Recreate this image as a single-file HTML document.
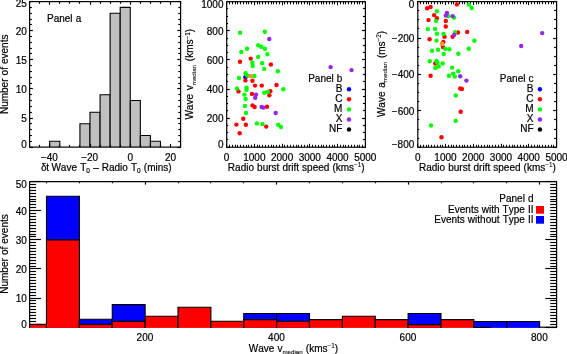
<!DOCTYPE html>
<html><head><meta charset="utf-8"><title>Figure</title>
<style>
html,body{margin:0;padding:0;background:#fff;}
body{width:567px;height:354px;overflow:hidden;font-family:"Liberation Sans",sans-serif;}
svg{display:block;will-change:transform;}
svg text{font-family:"Liberation Sans",sans-serif;fill:#000;word-spacing:0.3px;font-kerning:none;stroke:#000;stroke-width:0.2px;}
</style></head>
<body>
<svg width="567" height="354" viewBox="0 0 567 354">
<rect x="0" y="0" width="567" height="354" fill="#fff"/>
<path d="M49.73 147.10V141.28H59.80V147.10" fill="#c0c0c0" stroke="#000" stroke-width="1.1"/>
<path d="M79.93 147.10V123.82H90.00V147.10" fill="#c0c0c0" stroke="#000" stroke-width="1.1"/>
<path d="M90.00 147.10V112.18H100.07V147.10" fill="#c0c0c0" stroke="#000" stroke-width="1.1"/>
<path d="M100.07 147.10V94.72H110.13V147.10" fill="#c0c0c0" stroke="#000" stroke-width="1.1"/>
<path d="M110.13 147.10V13.24H120.20V147.10" fill="#c0c0c0" stroke="#000" stroke-width="1.1"/>
<path d="M120.20 147.10V7.42H130.27V147.10" fill="#c0c0c0" stroke="#000" stroke-width="1.1"/>
<path d="M130.27 147.10V100.54H140.33V147.10" fill="#c0c0c0" stroke="#000" stroke-width="1.1"/>
<path d="M140.33 147.10V135.46H150.40V147.10" fill="#c0c0c0" stroke="#000" stroke-width="1.1"/>
<path d="M150.40 147.10V141.28H160.47V147.10" fill="#c0c0c0" stroke="#000" stroke-width="1.1"/>
<line x1="29.50" y1="147.10" x2="29.50" y2="144.90" stroke="#000" stroke-width="1.15"/>
<line x1="29.50" y1="1.60" x2="29.50" y2="3.80" stroke="#000" stroke-width="1.15"/>
<line x1="39.50" y1="147.10" x2="39.50" y2="144.90" stroke="#000" stroke-width="1.15"/>
<line x1="39.50" y1="1.60" x2="39.50" y2="3.80" stroke="#000" stroke-width="1.15"/>
<line x1="49.50" y1="147.10" x2="49.50" y2="143.90" stroke="#000" stroke-width="1.15"/>
<line x1="49.50" y1="1.60" x2="49.50" y2="4.80" stroke="#000" stroke-width="1.15"/>
<line x1="59.50" y1="147.10" x2="59.50" y2="144.90" stroke="#000" stroke-width="1.15"/>
<line x1="59.50" y1="1.60" x2="59.50" y2="3.80" stroke="#000" stroke-width="1.15"/>
<line x1="69.50" y1="147.10" x2="69.50" y2="144.90" stroke="#000" stroke-width="1.15"/>
<line x1="69.50" y1="1.60" x2="69.50" y2="3.80" stroke="#000" stroke-width="1.15"/>
<line x1="79.50" y1="147.10" x2="79.50" y2="144.90" stroke="#000" stroke-width="1.15"/>
<line x1="79.50" y1="1.60" x2="79.50" y2="3.80" stroke="#000" stroke-width="1.15"/>
<line x1="90.50" y1="147.10" x2="90.50" y2="143.90" stroke="#000" stroke-width="1.15"/>
<line x1="90.50" y1="1.60" x2="90.50" y2="4.80" stroke="#000" stroke-width="1.15"/>
<line x1="100.50" y1="147.10" x2="100.50" y2="144.90" stroke="#000" stroke-width="1.15"/>
<line x1="100.50" y1="1.60" x2="100.50" y2="3.80" stroke="#000" stroke-width="1.15"/>
<line x1="110.50" y1="147.10" x2="110.50" y2="144.90" stroke="#000" stroke-width="1.15"/>
<line x1="110.50" y1="1.60" x2="110.50" y2="3.80" stroke="#000" stroke-width="1.15"/>
<line x1="120.50" y1="147.10" x2="120.50" y2="144.90" stroke="#000" stroke-width="1.15"/>
<line x1="120.50" y1="1.60" x2="120.50" y2="3.80" stroke="#000" stroke-width="1.15"/>
<line x1="130.50" y1="147.10" x2="130.50" y2="143.90" stroke="#000" stroke-width="1.15"/>
<line x1="130.50" y1="1.60" x2="130.50" y2="4.80" stroke="#000" stroke-width="1.15"/>
<line x1="140.50" y1="147.10" x2="140.50" y2="144.90" stroke="#000" stroke-width="1.15"/>
<line x1="140.50" y1="1.60" x2="140.50" y2="3.80" stroke="#000" stroke-width="1.15"/>
<line x1="150.50" y1="147.10" x2="150.50" y2="144.90" stroke="#000" stroke-width="1.15"/>
<line x1="150.50" y1="1.60" x2="150.50" y2="3.80" stroke="#000" stroke-width="1.15"/>
<line x1="160.50" y1="147.10" x2="160.50" y2="144.90" stroke="#000" stroke-width="1.15"/>
<line x1="160.50" y1="1.60" x2="160.50" y2="3.80" stroke="#000" stroke-width="1.15"/>
<line x1="170.50" y1="147.10" x2="170.50" y2="143.90" stroke="#000" stroke-width="1.15"/>
<line x1="170.50" y1="1.60" x2="170.50" y2="4.80" stroke="#000" stroke-width="1.15"/>
<line x1="180.50" y1="147.10" x2="180.50" y2="144.90" stroke="#000" stroke-width="1.15"/>
<line x1="180.50" y1="1.60" x2="180.50" y2="3.80" stroke="#000" stroke-width="1.15"/>
<line x1="29.60" y1="147.50" x2="32.90" y2="147.50" stroke="#000" stroke-width="1.15"/>
<line x1="180.60" y1="147.50" x2="177.30" y2="147.50" stroke="#000" stroke-width="1.15"/>
<line x1="29.60" y1="141.50" x2="31.90" y2="141.50" stroke="#000" stroke-width="1.15"/>
<line x1="180.60" y1="141.50" x2="178.30" y2="141.50" stroke="#000" stroke-width="1.15"/>
<line x1="29.60" y1="135.50" x2="31.90" y2="135.50" stroke="#000" stroke-width="1.15"/>
<line x1="180.60" y1="135.50" x2="178.30" y2="135.50" stroke="#000" stroke-width="1.15"/>
<line x1="29.60" y1="129.50" x2="31.90" y2="129.50" stroke="#000" stroke-width="1.15"/>
<line x1="180.60" y1="129.50" x2="178.30" y2="129.50" stroke="#000" stroke-width="1.15"/>
<line x1="29.60" y1="123.50" x2="31.90" y2="123.50" stroke="#000" stroke-width="1.15"/>
<line x1="180.60" y1="123.50" x2="178.30" y2="123.50" stroke="#000" stroke-width="1.15"/>
<line x1="29.60" y1="118.50" x2="32.90" y2="118.50" stroke="#000" stroke-width="1.15"/>
<line x1="180.60" y1="118.50" x2="177.30" y2="118.50" stroke="#000" stroke-width="1.15"/>
<line x1="29.60" y1="112.50" x2="31.90" y2="112.50" stroke="#000" stroke-width="1.15"/>
<line x1="180.60" y1="112.50" x2="178.30" y2="112.50" stroke="#000" stroke-width="1.15"/>
<line x1="29.60" y1="106.50" x2="31.90" y2="106.50" stroke="#000" stroke-width="1.15"/>
<line x1="180.60" y1="106.50" x2="178.30" y2="106.50" stroke="#000" stroke-width="1.15"/>
<line x1="29.60" y1="100.50" x2="31.90" y2="100.50" stroke="#000" stroke-width="1.15"/>
<line x1="180.60" y1="100.50" x2="178.30" y2="100.50" stroke="#000" stroke-width="1.15"/>
<line x1="29.60" y1="94.50" x2="31.90" y2="94.50" stroke="#000" stroke-width="1.15"/>
<line x1="180.60" y1="94.50" x2="178.30" y2="94.50" stroke="#000" stroke-width="1.15"/>
<line x1="29.60" y1="88.50" x2="32.90" y2="88.50" stroke="#000" stroke-width="1.15"/>
<line x1="180.60" y1="88.50" x2="177.30" y2="88.50" stroke="#000" stroke-width="1.15"/>
<line x1="29.60" y1="83.50" x2="31.90" y2="83.50" stroke="#000" stroke-width="1.15"/>
<line x1="180.60" y1="83.50" x2="178.30" y2="83.50" stroke="#000" stroke-width="1.15"/>
<line x1="29.60" y1="77.50" x2="31.90" y2="77.50" stroke="#000" stroke-width="1.15"/>
<line x1="180.60" y1="77.50" x2="178.30" y2="77.50" stroke="#000" stroke-width="1.15"/>
<line x1="29.60" y1="71.50" x2="31.90" y2="71.50" stroke="#000" stroke-width="1.15"/>
<line x1="180.60" y1="71.50" x2="178.30" y2="71.50" stroke="#000" stroke-width="1.15"/>
<line x1="29.60" y1="65.50" x2="31.90" y2="65.50" stroke="#000" stroke-width="1.15"/>
<line x1="180.60" y1="65.50" x2="178.30" y2="65.50" stroke="#000" stroke-width="1.15"/>
<line x1="29.60" y1="59.50" x2="32.90" y2="59.50" stroke="#000" stroke-width="1.15"/>
<line x1="180.60" y1="59.50" x2="177.30" y2="59.50" stroke="#000" stroke-width="1.15"/>
<line x1="29.60" y1="53.50" x2="31.90" y2="53.50" stroke="#000" stroke-width="1.15"/>
<line x1="180.60" y1="53.50" x2="178.30" y2="53.50" stroke="#000" stroke-width="1.15"/>
<line x1="29.60" y1="48.50" x2="31.90" y2="48.50" stroke="#000" stroke-width="1.15"/>
<line x1="180.60" y1="48.50" x2="178.30" y2="48.50" stroke="#000" stroke-width="1.15"/>
<line x1="29.60" y1="42.50" x2="31.90" y2="42.50" stroke="#000" stroke-width="1.15"/>
<line x1="180.60" y1="42.50" x2="178.30" y2="42.50" stroke="#000" stroke-width="1.15"/>
<line x1="29.60" y1="36.50" x2="31.90" y2="36.50" stroke="#000" stroke-width="1.15"/>
<line x1="180.60" y1="36.50" x2="178.30" y2="36.50" stroke="#000" stroke-width="1.15"/>
<line x1="29.60" y1="30.50" x2="32.90" y2="30.50" stroke="#000" stroke-width="1.15"/>
<line x1="180.60" y1="30.50" x2="177.30" y2="30.50" stroke="#000" stroke-width="1.15"/>
<line x1="29.60" y1="24.50" x2="31.90" y2="24.50" stroke="#000" stroke-width="1.15"/>
<line x1="180.60" y1="24.50" x2="178.30" y2="24.50" stroke="#000" stroke-width="1.15"/>
<line x1="29.60" y1="19.50" x2="31.90" y2="19.50" stroke="#000" stroke-width="1.15"/>
<line x1="180.60" y1="19.50" x2="178.30" y2="19.50" stroke="#000" stroke-width="1.15"/>
<line x1="29.60" y1="13.50" x2="31.90" y2="13.50" stroke="#000" stroke-width="1.15"/>
<line x1="180.60" y1="13.50" x2="178.30" y2="13.50" stroke="#000" stroke-width="1.15"/>
<line x1="29.60" y1="7.50" x2="31.90" y2="7.50" stroke="#000" stroke-width="1.15"/>
<line x1="180.60" y1="7.50" x2="178.30" y2="7.50" stroke="#000" stroke-width="1.15"/>
<line x1="29.60" y1="1.50" x2="32.90" y2="1.50" stroke="#000" stroke-width="1.15"/>
<line x1="180.60" y1="1.50" x2="177.30" y2="1.50" stroke="#000" stroke-width="1.15"/>
<rect x="29.60" y="1.60" width="151.00" height="145.50" fill="none" stroke="#000" stroke-width="1.2"/>
<text x="26.90" y="121.80" font-size="10" text-anchor="end" stroke-width="0.36">5</text>
<text x="26.90" y="92.70" font-size="10" text-anchor="end" stroke-width="0.36">10</text>
<text x="26.90" y="63.60" font-size="10" text-anchor="end" stroke-width="0.36">15</text>
<text x="26.90" y="34.50" font-size="10" text-anchor="end" stroke-width="0.36">20</text>
<text x="26.90" y="147.50" font-size="10" text-anchor="end" stroke-width="0.36">0</text>
<text x="26.90" y="7.30" font-size="10" text-anchor="end" stroke-width="0.36">25</text>
<text x="49.43" y="160.90" font-size="10" text-anchor="middle" stroke-width="0.36">&#8722;40</text>
<text x="89.70" y="160.90" font-size="10" text-anchor="middle" stroke-width="0.36">&#8722;20</text>
<text x="130.27" y="160.90" font-size="10" text-anchor="middle" stroke-width="0.36">0</text>
<text x="170.53" y="160.90" font-size="10" text-anchor="middle" stroke-width="0.36">20</text>
<text x="47.00" y="21.70" font-size="10" text-anchor="start" >Panel a</text>
<text transform="translate(8.00,74.30) rotate(-90)" font-size="10" text-anchor="middle" stroke-width="0.12" style="word-spacing:0.3px">Number of events</text>
<text x="40.90" y="170.60" font-size="10" text-anchor="start" stroke-width="0.1">&#948;</text>
<text x="46.30" y="170.60" font-size="10" text-anchor="start" stroke-width="0.1">t</text>
<text x="51.40" y="170.60" font-size="10" text-anchor="start" stroke-width="0.1">Wave</text>
<text x="80.20" y="170.60" font-size="10" text-anchor="start" stroke-width="0.1">T</text>
<text x="86.30" y="173.10" font-size="6.5" text-anchor="start" stroke-width="0.1">0</text>
<text x="93.20" y="170.60" font-size="10" text-anchor="start" stroke-width="0.1">&#8211;</text>
<text x="101.70" y="170.60" font-size="10" text-anchor="start" stroke-width="0.1">Radio</text>
<text x="130.90" y="170.60" font-size="10" text-anchor="start" stroke-width="0.1">T</text>
<text x="137.00" y="173.10" font-size="6.5" text-anchor="start" stroke-width="0.1">0</text>
<text x="143.80" y="170.60" font-size="10" text-anchor="start" stroke-width="0.1">(mins)</text>
<line x1="226.50" y1="147.20" x2="226.50" y2="143.80" stroke="#000" stroke-width="1.05"/>
<line x1="226.50" y1="1.70" x2="226.50" y2="5.20" stroke="#000" stroke-width="1.05"/>
<line x1="229.50" y1="147.20" x2="229.50" y2="144.80" stroke="#000" stroke-width="1.05"/>
<line x1="229.50" y1="1.70" x2="229.50" y2="4.30" stroke="#000" stroke-width="1.05"/>
<line x1="232.50" y1="147.20" x2="232.50" y2="144.80" stroke="#000" stroke-width="1.05"/>
<line x1="232.50" y1="1.70" x2="232.50" y2="4.30" stroke="#000" stroke-width="1.05"/>
<line x1="235.50" y1="147.20" x2="235.50" y2="144.80" stroke="#000" stroke-width="1.05"/>
<line x1="235.50" y1="1.70" x2="235.50" y2="4.30" stroke="#000" stroke-width="1.05"/>
<line x1="237.50" y1="147.20" x2="237.50" y2="144.80" stroke="#000" stroke-width="1.05"/>
<line x1="237.50" y1="1.70" x2="237.50" y2="4.30" stroke="#000" stroke-width="1.05"/>
<line x1="240.50" y1="147.20" x2="240.50" y2="144.80" stroke="#000" stroke-width="1.05"/>
<line x1="240.50" y1="1.70" x2="240.50" y2="4.30" stroke="#000" stroke-width="1.05"/>
<line x1="243.50" y1="147.20" x2="243.50" y2="144.80" stroke="#000" stroke-width="1.05"/>
<line x1="243.50" y1="1.70" x2="243.50" y2="4.30" stroke="#000" stroke-width="1.05"/>
<line x1="246.50" y1="147.20" x2="246.50" y2="144.80" stroke="#000" stroke-width="1.05"/>
<line x1="246.50" y1="1.70" x2="246.50" y2="4.30" stroke="#000" stroke-width="1.05"/>
<line x1="248.50" y1="147.20" x2="248.50" y2="144.80" stroke="#000" stroke-width="1.05"/>
<line x1="248.50" y1="1.70" x2="248.50" y2="4.30" stroke="#000" stroke-width="1.05"/>
<line x1="251.50" y1="147.20" x2="251.50" y2="144.80" stroke="#000" stroke-width="1.05"/>
<line x1="251.50" y1="1.70" x2="251.50" y2="4.30" stroke="#000" stroke-width="1.05"/>
<line x1="254.50" y1="147.20" x2="254.50" y2="143.80" stroke="#000" stroke-width="1.05"/>
<line x1="254.50" y1="1.70" x2="254.50" y2="5.20" stroke="#000" stroke-width="1.05"/>
<line x1="257.50" y1="147.20" x2="257.50" y2="144.80" stroke="#000" stroke-width="1.05"/>
<line x1="257.50" y1="1.70" x2="257.50" y2="4.30" stroke="#000" stroke-width="1.05"/>
<line x1="259.50" y1="147.20" x2="259.50" y2="144.80" stroke="#000" stroke-width="1.05"/>
<line x1="259.50" y1="1.70" x2="259.50" y2="4.30" stroke="#000" stroke-width="1.05"/>
<line x1="262.50" y1="147.20" x2="262.50" y2="144.80" stroke="#000" stroke-width="1.05"/>
<line x1="262.50" y1="1.70" x2="262.50" y2="4.30" stroke="#000" stroke-width="1.05"/>
<line x1="265.50" y1="147.20" x2="265.50" y2="144.80" stroke="#000" stroke-width="1.05"/>
<line x1="265.50" y1="1.70" x2="265.50" y2="4.30" stroke="#000" stroke-width="1.05"/>
<line x1="268.50" y1="147.20" x2="268.50" y2="144.80" stroke="#000" stroke-width="1.05"/>
<line x1="268.50" y1="1.70" x2="268.50" y2="4.30" stroke="#000" stroke-width="1.05"/>
<line x1="271.50" y1="147.20" x2="271.50" y2="144.80" stroke="#000" stroke-width="1.05"/>
<line x1="271.50" y1="1.70" x2="271.50" y2="4.30" stroke="#000" stroke-width="1.05"/>
<line x1="273.50" y1="147.20" x2="273.50" y2="144.80" stroke="#000" stroke-width="1.05"/>
<line x1="273.50" y1="1.70" x2="273.50" y2="4.30" stroke="#000" stroke-width="1.05"/>
<line x1="276.50" y1="147.20" x2="276.50" y2="144.80" stroke="#000" stroke-width="1.05"/>
<line x1="276.50" y1="1.70" x2="276.50" y2="4.30" stroke="#000" stroke-width="1.05"/>
<line x1="279.50" y1="147.20" x2="279.50" y2="144.80" stroke="#000" stroke-width="1.05"/>
<line x1="279.50" y1="1.70" x2="279.50" y2="4.30" stroke="#000" stroke-width="1.05"/>
<line x1="282.50" y1="147.20" x2="282.50" y2="143.80" stroke="#000" stroke-width="1.05"/>
<line x1="282.50" y1="1.70" x2="282.50" y2="5.20" stroke="#000" stroke-width="1.05"/>
<line x1="284.50" y1="147.20" x2="284.50" y2="144.80" stroke="#000" stroke-width="1.05"/>
<line x1="284.50" y1="1.70" x2="284.50" y2="4.30" stroke="#000" stroke-width="1.05"/>
<line x1="287.50" y1="147.20" x2="287.50" y2="144.80" stroke="#000" stroke-width="1.05"/>
<line x1="287.50" y1="1.70" x2="287.50" y2="4.30" stroke="#000" stroke-width="1.05"/>
<line x1="290.50" y1="147.20" x2="290.50" y2="144.80" stroke="#000" stroke-width="1.05"/>
<line x1="290.50" y1="1.70" x2="290.50" y2="4.30" stroke="#000" stroke-width="1.05"/>
<line x1="293.50" y1="147.20" x2="293.50" y2="144.80" stroke="#000" stroke-width="1.05"/>
<line x1="293.50" y1="1.70" x2="293.50" y2="4.30" stroke="#000" stroke-width="1.05"/>
<line x1="296.50" y1="147.20" x2="296.50" y2="144.80" stroke="#000" stroke-width="1.05"/>
<line x1="296.50" y1="1.70" x2="296.50" y2="4.30" stroke="#000" stroke-width="1.05"/>
<line x1="298.50" y1="147.20" x2="298.50" y2="144.80" stroke="#000" stroke-width="1.05"/>
<line x1="298.50" y1="1.70" x2="298.50" y2="4.30" stroke="#000" stroke-width="1.05"/>
<line x1="301.50" y1="147.20" x2="301.50" y2="144.80" stroke="#000" stroke-width="1.05"/>
<line x1="301.50" y1="1.70" x2="301.50" y2="4.30" stroke="#000" stroke-width="1.05"/>
<line x1="304.50" y1="147.20" x2="304.50" y2="144.80" stroke="#000" stroke-width="1.05"/>
<line x1="304.50" y1="1.70" x2="304.50" y2="4.30" stroke="#000" stroke-width="1.05"/>
<line x1="307.50" y1="147.20" x2="307.50" y2="144.80" stroke="#000" stroke-width="1.05"/>
<line x1="307.50" y1="1.70" x2="307.50" y2="4.30" stroke="#000" stroke-width="1.05"/>
<line x1="309.50" y1="147.20" x2="309.50" y2="143.80" stroke="#000" stroke-width="1.05"/>
<line x1="309.50" y1="1.70" x2="309.50" y2="5.20" stroke="#000" stroke-width="1.05"/>
<line x1="312.50" y1="147.20" x2="312.50" y2="144.80" stroke="#000" stroke-width="1.05"/>
<line x1="312.50" y1="1.70" x2="312.50" y2="4.30" stroke="#000" stroke-width="1.05"/>
<line x1="315.50" y1="147.20" x2="315.50" y2="144.80" stroke="#000" stroke-width="1.05"/>
<line x1="315.50" y1="1.70" x2="315.50" y2="4.30" stroke="#000" stroke-width="1.05"/>
<line x1="318.50" y1="147.20" x2="318.50" y2="144.80" stroke="#000" stroke-width="1.05"/>
<line x1="318.50" y1="1.70" x2="318.50" y2="4.30" stroke="#000" stroke-width="1.05"/>
<line x1="321.50" y1="147.20" x2="321.50" y2="144.80" stroke="#000" stroke-width="1.05"/>
<line x1="321.50" y1="1.70" x2="321.50" y2="4.30" stroke="#000" stroke-width="1.05"/>
<line x1="323.50" y1="147.20" x2="323.50" y2="144.80" stroke="#000" stroke-width="1.05"/>
<line x1="323.50" y1="1.70" x2="323.50" y2="4.30" stroke="#000" stroke-width="1.05"/>
<line x1="326.50" y1="147.20" x2="326.50" y2="144.80" stroke="#000" stroke-width="1.05"/>
<line x1="326.50" y1="1.70" x2="326.50" y2="4.30" stroke="#000" stroke-width="1.05"/>
<line x1="329.50" y1="147.20" x2="329.50" y2="144.80" stroke="#000" stroke-width="1.05"/>
<line x1="329.50" y1="1.70" x2="329.50" y2="4.30" stroke="#000" stroke-width="1.05"/>
<line x1="332.50" y1="147.20" x2="332.50" y2="144.80" stroke="#000" stroke-width="1.05"/>
<line x1="332.50" y1="1.70" x2="332.50" y2="4.30" stroke="#000" stroke-width="1.05"/>
<line x1="334.50" y1="147.20" x2="334.50" y2="144.80" stroke="#000" stroke-width="1.05"/>
<line x1="334.50" y1="1.70" x2="334.50" y2="4.30" stroke="#000" stroke-width="1.05"/>
<line x1="337.50" y1="147.20" x2="337.50" y2="143.80" stroke="#000" stroke-width="1.05"/>
<line x1="337.50" y1="1.70" x2="337.50" y2="5.20" stroke="#000" stroke-width="1.05"/>
<line x1="340.50" y1="147.20" x2="340.50" y2="144.80" stroke="#000" stroke-width="1.05"/>
<line x1="340.50" y1="1.70" x2="340.50" y2="4.30" stroke="#000" stroke-width="1.05"/>
<line x1="343.50" y1="147.20" x2="343.50" y2="144.80" stroke="#000" stroke-width="1.05"/>
<line x1="343.50" y1="1.70" x2="343.50" y2="4.30" stroke="#000" stroke-width="1.05"/>
<line x1="345.50" y1="147.20" x2="345.50" y2="144.80" stroke="#000" stroke-width="1.05"/>
<line x1="345.50" y1="1.70" x2="345.50" y2="4.30" stroke="#000" stroke-width="1.05"/>
<line x1="348.50" y1="147.20" x2="348.50" y2="144.80" stroke="#000" stroke-width="1.05"/>
<line x1="348.50" y1="1.70" x2="348.50" y2="4.30" stroke="#000" stroke-width="1.05"/>
<line x1="351.50" y1="147.20" x2="351.50" y2="144.80" stroke="#000" stroke-width="1.05"/>
<line x1="351.50" y1="1.70" x2="351.50" y2="4.30" stroke="#000" stroke-width="1.05"/>
<line x1="354.50" y1="147.20" x2="354.50" y2="144.80" stroke="#000" stroke-width="1.05"/>
<line x1="354.50" y1="1.70" x2="354.50" y2="4.30" stroke="#000" stroke-width="1.05"/>
<line x1="357.50" y1="147.20" x2="357.50" y2="144.80" stroke="#000" stroke-width="1.05"/>
<line x1="357.50" y1="1.70" x2="357.50" y2="4.30" stroke="#000" stroke-width="1.05"/>
<line x1="359.50" y1="147.20" x2="359.50" y2="144.80" stroke="#000" stroke-width="1.05"/>
<line x1="359.50" y1="1.70" x2="359.50" y2="4.30" stroke="#000" stroke-width="1.05"/>
<line x1="362.50" y1="147.20" x2="362.50" y2="144.80" stroke="#000" stroke-width="1.05"/>
<line x1="362.50" y1="1.70" x2="362.50" y2="4.30" stroke="#000" stroke-width="1.05"/>
<line x1="365.50" y1="147.20" x2="365.50" y2="143.80" stroke="#000" stroke-width="1.05"/>
<line x1="365.50" y1="1.70" x2="365.50" y2="5.20" stroke="#000" stroke-width="1.05"/>
<line x1="226.70" y1="1.50" x2="229.80" y2="1.50" stroke="#000" stroke-width="1.15"/>
<line x1="365.40" y1="1.50" x2="362.00" y2="1.50" stroke="#000" stroke-width="1.15"/>
<line x1="226.70" y1="8.50" x2="228.10" y2="8.50" stroke="#000" stroke-width="1.15"/>
<line x1="365.40" y1="8.50" x2="362.90" y2="8.50" stroke="#000" stroke-width="1.15"/>
<line x1="226.70" y1="16.50" x2="228.10" y2="16.50" stroke="#000" stroke-width="1.15"/>
<line x1="365.40" y1="16.50" x2="362.90" y2="16.50" stroke="#000" stroke-width="1.15"/>
<line x1="226.70" y1="23.50" x2="228.10" y2="23.50" stroke="#000" stroke-width="1.15"/>
<line x1="365.40" y1="23.50" x2="362.90" y2="23.50" stroke="#000" stroke-width="1.15"/>
<line x1="226.70" y1="30.50" x2="229.80" y2="30.50" stroke="#000" stroke-width="1.15"/>
<line x1="365.40" y1="30.50" x2="362.00" y2="30.50" stroke="#000" stroke-width="1.15"/>
<line x1="226.70" y1="38.50" x2="228.10" y2="38.50" stroke="#000" stroke-width="1.15"/>
<line x1="365.40" y1="38.50" x2="362.90" y2="38.50" stroke="#000" stroke-width="1.15"/>
<line x1="226.70" y1="45.50" x2="228.10" y2="45.50" stroke="#000" stroke-width="1.15"/>
<line x1="365.40" y1="45.50" x2="362.90" y2="45.50" stroke="#000" stroke-width="1.15"/>
<line x1="226.70" y1="52.50" x2="228.10" y2="52.50" stroke="#000" stroke-width="1.15"/>
<line x1="365.40" y1="52.50" x2="362.90" y2="52.50" stroke="#000" stroke-width="1.15"/>
<line x1="226.70" y1="59.50" x2="229.80" y2="59.50" stroke="#000" stroke-width="1.15"/>
<line x1="365.40" y1="59.50" x2="362.00" y2="59.50" stroke="#000" stroke-width="1.15"/>
<line x1="226.70" y1="67.50" x2="228.10" y2="67.50" stroke="#000" stroke-width="1.15"/>
<line x1="365.40" y1="67.50" x2="362.90" y2="67.50" stroke="#000" stroke-width="1.15"/>
<line x1="226.70" y1="74.50" x2="228.10" y2="74.50" stroke="#000" stroke-width="1.15"/>
<line x1="365.40" y1="74.50" x2="362.90" y2="74.50" stroke="#000" stroke-width="1.15"/>
<line x1="226.70" y1="81.50" x2="228.10" y2="81.50" stroke="#000" stroke-width="1.15"/>
<line x1="365.40" y1="81.50" x2="362.90" y2="81.50" stroke="#000" stroke-width="1.15"/>
<line x1="226.70" y1="89.50" x2="229.80" y2="89.50" stroke="#000" stroke-width="1.15"/>
<line x1="365.40" y1="89.50" x2="362.00" y2="89.50" stroke="#000" stroke-width="1.15"/>
<line x1="226.70" y1="96.50" x2="228.10" y2="96.50" stroke="#000" stroke-width="1.15"/>
<line x1="365.40" y1="96.50" x2="362.90" y2="96.50" stroke="#000" stroke-width="1.15"/>
<line x1="226.70" y1="103.50" x2="228.10" y2="103.50" stroke="#000" stroke-width="1.15"/>
<line x1="365.40" y1="103.50" x2="362.90" y2="103.50" stroke="#000" stroke-width="1.15"/>
<line x1="226.70" y1="110.50" x2="228.10" y2="110.50" stroke="#000" stroke-width="1.15"/>
<line x1="365.40" y1="110.50" x2="362.90" y2="110.50" stroke="#000" stroke-width="1.15"/>
<line x1="226.70" y1="118.50" x2="229.80" y2="118.50" stroke="#000" stroke-width="1.15"/>
<line x1="365.40" y1="118.50" x2="362.00" y2="118.50" stroke="#000" stroke-width="1.15"/>
<line x1="226.70" y1="125.50" x2="228.10" y2="125.50" stroke="#000" stroke-width="1.15"/>
<line x1="365.40" y1="125.50" x2="362.90" y2="125.50" stroke="#000" stroke-width="1.15"/>
<line x1="226.70" y1="132.50" x2="228.10" y2="132.50" stroke="#000" stroke-width="1.15"/>
<line x1="365.40" y1="132.50" x2="362.90" y2="132.50" stroke="#000" stroke-width="1.15"/>
<line x1="226.70" y1="139.50" x2="228.10" y2="139.50" stroke="#000" stroke-width="1.15"/>
<line x1="365.40" y1="139.50" x2="362.90" y2="139.50" stroke="#000" stroke-width="1.15"/>
<line x1="226.70" y1="147.50" x2="229.80" y2="147.50" stroke="#000" stroke-width="1.15"/>
<line x1="365.40" y1="147.50" x2="362.00" y2="147.50" stroke="#000" stroke-width="1.15"/>
<rect x="226.70" y="1.70" width="138.70" height="145.50" fill="none" stroke="#000" stroke-width="1.2"/>
<text x="226.60" y="160.90" font-size="10" text-anchor="middle" stroke-width="0.36">0</text>
<text x="254.34" y="160.90" font-size="10" text-anchor="middle" stroke-width="0.36">1000</text>
<text x="282.08" y="160.90" font-size="10" text-anchor="middle" stroke-width="0.36">2000</text>
<text x="309.82" y="160.90" font-size="10" text-anchor="middle" stroke-width="0.36">3000</text>
<text x="337.56" y="160.90" font-size="10" text-anchor="middle" stroke-width="0.36">4000</text>
<text x="365.30" y="160.90" font-size="10" text-anchor="middle" stroke-width="0.36">5000</text>
<text x="296.25" y="170.70" font-size="10" text-anchor="middle" stroke-width="0.1">Radio burst drift speed (kms<tspan font-size="6.3" dy="-3.5" stroke-width="0.08">&#8722;1</tspan><tspan dy="3.5" font-size="1">&#8203;</tspan>)</text>
<text x="223.50" y="122.10" font-size="10" text-anchor="end" stroke-width="0.36">200</text>
<text x="223.50" y="93.00" font-size="10" text-anchor="end" stroke-width="0.36">400</text>
<text x="223.50" y="63.90" font-size="10" text-anchor="end" stroke-width="0.36">600</text>
<text x="223.50" y="34.80" font-size="10" text-anchor="end" stroke-width="0.36">800</text>
<text x="223.50" y="147.60" font-size="10" text-anchor="end" stroke-width="0.36">0</text>
<text x="223.50" y="8.20" font-size="10" text-anchor="end" stroke-width="0.36">1000</text>
<text transform="translate(193.00,119.60) rotate(-90)" font-size="10" text-anchor="start" stroke-width="0.12" style="word-spacing:1.0px">Wave v<tspan font-size="6.2" dy="2.6" stroke-width="0.08">median</tspan><tspan dy="-2.6" font-size="1">&#8203;</tspan> (kms<tspan font-size="6.3" dy="-3.5" stroke-width="0.08">&#8722;1</tspan><tspan dy="3.5" font-size="1">&#8203;</tspan>)</text>
<circle cx="245.4" cy="77.3" r="2.2" fill="#0000ff"/>
<circle cx="250.7" cy="58.6" r="2.2" fill="#ff0000"/>
<circle cx="240.0" cy="61.8" r="2.2" fill="#ff0000"/>
<circle cx="270.9" cy="64.5" r="2.2" fill="#ff0000"/>
<circle cx="245.4" cy="80.4" r="2.2" fill="#ff0000"/>
<circle cx="252.4" cy="80.8" r="2.2" fill="#ff0000"/>
<circle cx="255.0" cy="85.6" r="2.2" fill="#ff0000"/>
<circle cx="261.8" cy="85.6" r="2.2" fill="#ff0000"/>
<circle cx="276.5" cy="85.0" r="2.2" fill="#ff0000"/>
<circle cx="238.5" cy="91.4" r="2.2" fill="#ff0000"/>
<circle cx="270.3" cy="91.3" r="2.2" fill="#ff0000"/>
<circle cx="252.0" cy="93.9" r="2.2" fill="#ff0000"/>
<circle cx="269.3" cy="95.3" r="2.2" fill="#ff0000"/>
<circle cx="252.5" cy="105.4" r="2.2" fill="#ff0000"/>
<circle cx="254.6" cy="107.0" r="2.2" fill="#ff0000"/>
<circle cx="267.0" cy="106.7" r="2.2" fill="#ff0000"/>
<circle cx="243.3" cy="118.7" r="2.2" fill="#ff0000"/>
<circle cx="236.4" cy="124.6" r="2.2" fill="#ff0000"/>
<circle cx="245.9" cy="124.8" r="2.2" fill="#ff0000"/>
<circle cx="239.7" cy="133.3" r="2.2" fill="#ff0000"/>
<circle cx="266.2" cy="126.6" r="2.2" fill="#ff0000"/>
<circle cx="240.1" cy="32.8" r="2.2" fill="#00ff00"/>
<circle cx="264.9" cy="31.7" r="2.2" fill="#00ff00"/>
<circle cx="258.2" cy="45.2" r="2.2" fill="#00ff00"/>
<circle cx="261.2" cy="46.7" r="2.2" fill="#00ff00"/>
<circle cx="264.9" cy="48.7" r="2.2" fill="#00ff00"/>
<circle cx="247.1" cy="48.7" r="2.2" fill="#00ff00"/>
<circle cx="241.3" cy="51.9" r="2.2" fill="#00ff00"/>
<circle cx="267.4" cy="54.3" r="2.2" fill="#00ff00"/>
<circle cx="258.2" cy="56.9" r="2.2" fill="#00ff00"/>
<circle cx="252.4" cy="62.7" r="2.2" fill="#00ff00"/>
<circle cx="252.7" cy="66.0" r="2.2" fill="#00ff00"/>
<circle cx="262.1" cy="63.3" r="2.2" fill="#00ff00"/>
<circle cx="264.1" cy="68.9" r="2.2" fill="#00ff00"/>
<circle cx="277.8" cy="71.3" r="2.2" fill="#00ff00"/>
<circle cx="245.6" cy="73.3" r="2.2" fill="#00ff00"/>
<circle cx="247.3" cy="75.6" r="2.2" fill="#00ff00"/>
<circle cx="254.4" cy="76.0" r="2.2" fill="#00ff00"/>
<circle cx="239.0" cy="77.9" r="2.2" fill="#00ff00"/>
<circle cx="236.9" cy="88.4" r="2.2" fill="#00ff00"/>
<circle cx="246.5" cy="87.6" r="2.2" fill="#00ff00"/>
<circle cx="246.5" cy="89.9" r="2.2" fill="#00ff00"/>
<circle cx="264.3" cy="92.7" r="2.2" fill="#00ff00"/>
<circle cx="267.8" cy="91.9" r="2.2" fill="#00ff00"/>
<circle cx="244.4" cy="94.6" r="2.2" fill="#00ff00"/>
<circle cx="245.6" cy="99.0" r="2.2" fill="#00ff00"/>
<circle cx="244.9" cy="106.0" r="2.2" fill="#00ff00"/>
<circle cx="246.0" cy="113.0" r="2.2" fill="#00ff00"/>
<circle cx="283.3" cy="89.3" r="2.2" fill="#00ff00"/>
<circle cx="256.9" cy="123.4" r="2.2" fill="#00ff00"/>
<circle cx="262.5" cy="124.1" r="2.2" fill="#00ff00"/>
<circle cx="278.2" cy="124.7" r="2.2" fill="#00ff00"/>
<circle cx="281.0" cy="127.0" r="2.2" fill="#00ff00"/>
<circle cx="269.3" cy="39.0" r="2.2" fill="#9624ee"/>
<circle cx="256.0" cy="94.6" r="2.2" fill="#9624ee"/>
<circle cx="255.2" cy="97.8" r="2.2" fill="#9624ee"/>
<circle cx="261.6" cy="107.0" r="2.2" fill="#9624ee"/>
<circle cx="263.4" cy="107.6" r="2.2" fill="#9624ee"/>
<circle cx="275.7" cy="113.0" r="2.2" fill="#9624ee"/>
<circle cx="330.6" cy="67.1" r="2.2" fill="#9624ee"/>
<circle cx="351.5" cy="70.1" r="2.2" fill="#9624ee"/>
<rect x="248.6" y="73.9" width="4.2" height="4.2" rx="1.2" fill="#f09a30"/>
<text x="342.40" y="81.50" font-size="10" text-anchor="end" >Panel b</text>
<text x="342.40" y="91.70" font-size="10" text-anchor="end" >B</text>
<circle cx="349.0" cy="89.3" r="2.2" fill="#0000ff"/>
<text x="342.40" y="101.75" font-size="10" text-anchor="end" >C</text>
<circle cx="349.0" cy="99.3" r="2.2" fill="#ff0000"/>
<text x="342.40" y="111.80" font-size="10" text-anchor="end" >M</text>
<circle cx="349.0" cy="109.4" r="2.2" fill="#00ff00"/>
<text x="342.40" y="121.85" font-size="10" text-anchor="end" >X</text>
<circle cx="349.0" cy="119.5" r="2.2" fill="#9624ee"/>
<text x="342.40" y="131.90" font-size="10" text-anchor="end" >NF</text>
<circle cx="349.0" cy="129.5" r="2.2" fill="#000"/>
<line x1="417.50" y1="147.20" x2="417.50" y2="143.80" stroke="#000" stroke-width="1.05"/>
<line x1="417.50" y1="1.60" x2="417.50" y2="5.10" stroke="#000" stroke-width="1.05"/>
<line x1="420.50" y1="147.20" x2="420.50" y2="144.80" stroke="#000" stroke-width="1.05"/>
<line x1="420.50" y1="1.60" x2="420.50" y2="4.20" stroke="#000" stroke-width="1.05"/>
<line x1="423.50" y1="147.20" x2="423.50" y2="144.80" stroke="#000" stroke-width="1.05"/>
<line x1="423.50" y1="1.60" x2="423.50" y2="4.20" stroke="#000" stroke-width="1.05"/>
<line x1="426.50" y1="147.20" x2="426.50" y2="144.80" stroke="#000" stroke-width="1.05"/>
<line x1="426.50" y1="1.60" x2="426.50" y2="4.20" stroke="#000" stroke-width="1.05"/>
<line x1="428.50" y1="147.20" x2="428.50" y2="144.80" stroke="#000" stroke-width="1.05"/>
<line x1="428.50" y1="1.60" x2="428.50" y2="4.20" stroke="#000" stroke-width="1.05"/>
<line x1="431.50" y1="147.20" x2="431.50" y2="144.80" stroke="#000" stroke-width="1.05"/>
<line x1="431.50" y1="1.60" x2="431.50" y2="4.20" stroke="#000" stroke-width="1.05"/>
<line x1="434.50" y1="147.20" x2="434.50" y2="144.80" stroke="#000" stroke-width="1.05"/>
<line x1="434.50" y1="1.60" x2="434.50" y2="4.20" stroke="#000" stroke-width="1.05"/>
<line x1="437.50" y1="147.20" x2="437.50" y2="144.80" stroke="#000" stroke-width="1.05"/>
<line x1="437.50" y1="1.60" x2="437.50" y2="4.20" stroke="#000" stroke-width="1.05"/>
<line x1="440.50" y1="147.20" x2="440.50" y2="144.80" stroke="#000" stroke-width="1.05"/>
<line x1="440.50" y1="1.60" x2="440.50" y2="4.20" stroke="#000" stroke-width="1.05"/>
<line x1="442.50" y1="147.20" x2="442.50" y2="144.80" stroke="#000" stroke-width="1.05"/>
<line x1="442.50" y1="1.60" x2="442.50" y2="4.20" stroke="#000" stroke-width="1.05"/>
<line x1="445.50" y1="147.20" x2="445.50" y2="143.80" stroke="#000" stroke-width="1.05"/>
<line x1="445.50" y1="1.60" x2="445.50" y2="5.10" stroke="#000" stroke-width="1.05"/>
<line x1="448.50" y1="147.20" x2="448.50" y2="144.80" stroke="#000" stroke-width="1.05"/>
<line x1="448.50" y1="1.60" x2="448.50" y2="4.20" stroke="#000" stroke-width="1.05"/>
<line x1="451.50" y1="147.20" x2="451.50" y2="144.80" stroke="#000" stroke-width="1.05"/>
<line x1="451.50" y1="1.60" x2="451.50" y2="4.20" stroke="#000" stroke-width="1.05"/>
<line x1="453.50" y1="147.20" x2="453.50" y2="144.80" stroke="#000" stroke-width="1.05"/>
<line x1="453.50" y1="1.60" x2="453.50" y2="4.20" stroke="#000" stroke-width="1.05"/>
<line x1="456.50" y1="147.20" x2="456.50" y2="144.80" stroke="#000" stroke-width="1.05"/>
<line x1="456.50" y1="1.60" x2="456.50" y2="4.20" stroke="#000" stroke-width="1.05"/>
<line x1="459.50" y1="147.20" x2="459.50" y2="144.80" stroke="#000" stroke-width="1.05"/>
<line x1="459.50" y1="1.60" x2="459.50" y2="4.20" stroke="#000" stroke-width="1.05"/>
<line x1="462.50" y1="147.20" x2="462.50" y2="144.80" stroke="#000" stroke-width="1.05"/>
<line x1="462.50" y1="1.60" x2="462.50" y2="4.20" stroke="#000" stroke-width="1.05"/>
<line x1="464.50" y1="147.20" x2="464.50" y2="144.80" stroke="#000" stroke-width="1.05"/>
<line x1="464.50" y1="1.60" x2="464.50" y2="4.20" stroke="#000" stroke-width="1.05"/>
<line x1="467.50" y1="147.20" x2="467.50" y2="144.80" stroke="#000" stroke-width="1.05"/>
<line x1="467.50" y1="1.60" x2="467.50" y2="4.20" stroke="#000" stroke-width="1.05"/>
<line x1="470.50" y1="147.20" x2="470.50" y2="144.80" stroke="#000" stroke-width="1.05"/>
<line x1="470.50" y1="1.60" x2="470.50" y2="4.20" stroke="#000" stroke-width="1.05"/>
<line x1="473.50" y1="147.20" x2="473.50" y2="143.80" stroke="#000" stroke-width="1.05"/>
<line x1="473.50" y1="1.60" x2="473.50" y2="5.10" stroke="#000" stroke-width="1.05"/>
<line x1="476.50" y1="147.20" x2="476.50" y2="144.80" stroke="#000" stroke-width="1.05"/>
<line x1="476.50" y1="1.60" x2="476.50" y2="4.20" stroke="#000" stroke-width="1.05"/>
<line x1="478.50" y1="147.20" x2="478.50" y2="144.80" stroke="#000" stroke-width="1.05"/>
<line x1="478.50" y1="1.60" x2="478.50" y2="4.20" stroke="#000" stroke-width="1.05"/>
<line x1="481.50" y1="147.20" x2="481.50" y2="144.80" stroke="#000" stroke-width="1.05"/>
<line x1="481.50" y1="1.60" x2="481.50" y2="4.20" stroke="#000" stroke-width="1.05"/>
<line x1="484.50" y1="147.20" x2="484.50" y2="144.80" stroke="#000" stroke-width="1.05"/>
<line x1="484.50" y1="1.60" x2="484.50" y2="4.20" stroke="#000" stroke-width="1.05"/>
<line x1="487.50" y1="147.20" x2="487.50" y2="144.80" stroke="#000" stroke-width="1.05"/>
<line x1="487.50" y1="1.60" x2="487.50" y2="4.20" stroke="#000" stroke-width="1.05"/>
<line x1="489.50" y1="147.20" x2="489.50" y2="144.80" stroke="#000" stroke-width="1.05"/>
<line x1="489.50" y1="1.60" x2="489.50" y2="4.20" stroke="#000" stroke-width="1.05"/>
<line x1="492.50" y1="147.20" x2="492.50" y2="144.80" stroke="#000" stroke-width="1.05"/>
<line x1="492.50" y1="1.60" x2="492.50" y2="4.20" stroke="#000" stroke-width="1.05"/>
<line x1="495.50" y1="147.20" x2="495.50" y2="144.80" stroke="#000" stroke-width="1.05"/>
<line x1="495.50" y1="1.60" x2="495.50" y2="4.20" stroke="#000" stroke-width="1.05"/>
<line x1="498.50" y1="147.20" x2="498.50" y2="144.80" stroke="#000" stroke-width="1.05"/>
<line x1="498.50" y1="1.60" x2="498.50" y2="4.20" stroke="#000" stroke-width="1.05"/>
<line x1="501.50" y1="147.20" x2="501.50" y2="143.80" stroke="#000" stroke-width="1.05"/>
<line x1="501.50" y1="1.60" x2="501.50" y2="5.10" stroke="#000" stroke-width="1.05"/>
<line x1="503.50" y1="147.20" x2="503.50" y2="144.80" stroke="#000" stroke-width="1.05"/>
<line x1="503.50" y1="1.60" x2="503.50" y2="4.20" stroke="#000" stroke-width="1.05"/>
<line x1="506.50" y1="147.20" x2="506.50" y2="144.80" stroke="#000" stroke-width="1.05"/>
<line x1="506.50" y1="1.60" x2="506.50" y2="4.20" stroke="#000" stroke-width="1.05"/>
<line x1="509.50" y1="147.20" x2="509.50" y2="144.80" stroke="#000" stroke-width="1.05"/>
<line x1="509.50" y1="1.60" x2="509.50" y2="4.20" stroke="#000" stroke-width="1.05"/>
<line x1="512.50" y1="147.20" x2="512.50" y2="144.80" stroke="#000" stroke-width="1.05"/>
<line x1="512.50" y1="1.60" x2="512.50" y2="4.20" stroke="#000" stroke-width="1.05"/>
<line x1="514.50" y1="147.20" x2="514.50" y2="144.80" stroke="#000" stroke-width="1.05"/>
<line x1="514.50" y1="1.60" x2="514.50" y2="4.20" stroke="#000" stroke-width="1.05"/>
<line x1="517.50" y1="147.20" x2="517.50" y2="144.80" stroke="#000" stroke-width="1.05"/>
<line x1="517.50" y1="1.60" x2="517.50" y2="4.20" stroke="#000" stroke-width="1.05"/>
<line x1="520.50" y1="147.20" x2="520.50" y2="144.80" stroke="#000" stroke-width="1.05"/>
<line x1="520.50" y1="1.60" x2="520.50" y2="4.20" stroke="#000" stroke-width="1.05"/>
<line x1="523.50" y1="147.20" x2="523.50" y2="144.80" stroke="#000" stroke-width="1.05"/>
<line x1="523.50" y1="1.60" x2="523.50" y2="4.20" stroke="#000" stroke-width="1.05"/>
<line x1="526.50" y1="147.20" x2="526.50" y2="144.80" stroke="#000" stroke-width="1.05"/>
<line x1="526.50" y1="1.60" x2="526.50" y2="4.20" stroke="#000" stroke-width="1.05"/>
<line x1="528.50" y1="147.20" x2="528.50" y2="143.80" stroke="#000" stroke-width="1.05"/>
<line x1="528.50" y1="1.60" x2="528.50" y2="5.10" stroke="#000" stroke-width="1.05"/>
<line x1="531.50" y1="147.20" x2="531.50" y2="144.80" stroke="#000" stroke-width="1.05"/>
<line x1="531.50" y1="1.60" x2="531.50" y2="4.20" stroke="#000" stroke-width="1.05"/>
<line x1="534.50" y1="147.20" x2="534.50" y2="144.80" stroke="#000" stroke-width="1.05"/>
<line x1="534.50" y1="1.60" x2="534.50" y2="4.20" stroke="#000" stroke-width="1.05"/>
<line x1="537.50" y1="147.20" x2="537.50" y2="144.80" stroke="#000" stroke-width="1.05"/>
<line x1="537.50" y1="1.60" x2="537.50" y2="4.20" stroke="#000" stroke-width="1.05"/>
<line x1="539.50" y1="147.20" x2="539.50" y2="144.80" stroke="#000" stroke-width="1.05"/>
<line x1="539.50" y1="1.60" x2="539.50" y2="4.20" stroke="#000" stroke-width="1.05"/>
<line x1="542.50" y1="147.20" x2="542.50" y2="144.80" stroke="#000" stroke-width="1.05"/>
<line x1="542.50" y1="1.60" x2="542.50" y2="4.20" stroke="#000" stroke-width="1.05"/>
<line x1="545.50" y1="147.20" x2="545.50" y2="144.80" stroke="#000" stroke-width="1.05"/>
<line x1="545.50" y1="1.60" x2="545.50" y2="4.20" stroke="#000" stroke-width="1.05"/>
<line x1="548.50" y1="147.20" x2="548.50" y2="144.80" stroke="#000" stroke-width="1.05"/>
<line x1="548.50" y1="1.60" x2="548.50" y2="4.20" stroke="#000" stroke-width="1.05"/>
<line x1="551.50" y1="147.20" x2="551.50" y2="144.80" stroke="#000" stroke-width="1.05"/>
<line x1="551.50" y1="1.60" x2="551.50" y2="4.20" stroke="#000" stroke-width="1.05"/>
<line x1="553.50" y1="147.20" x2="553.50" y2="144.80" stroke="#000" stroke-width="1.05"/>
<line x1="553.50" y1="1.60" x2="553.50" y2="4.20" stroke="#000" stroke-width="1.05"/>
<line x1="556.50" y1="147.20" x2="556.50" y2="143.80" stroke="#000" stroke-width="1.05"/>
<line x1="556.50" y1="1.60" x2="556.50" y2="5.10" stroke="#000" stroke-width="1.05"/>
<line x1="417.80" y1="1.50" x2="420.90" y2="1.50" stroke="#000" stroke-width="1.15"/>
<line x1="556.60" y1="1.50" x2="553.20" y2="1.50" stroke="#000" stroke-width="1.15"/>
<line x1="417.80" y1="10.50" x2="419.20" y2="10.50" stroke="#000" stroke-width="1.15"/>
<line x1="556.60" y1="10.50" x2="554.10" y2="10.50" stroke="#000" stroke-width="1.15"/>
<line x1="417.80" y1="19.50" x2="419.20" y2="19.50" stroke="#000" stroke-width="1.15"/>
<line x1="556.60" y1="19.50" x2="554.10" y2="19.50" stroke="#000" stroke-width="1.15"/>
<line x1="417.80" y1="28.50" x2="419.20" y2="28.50" stroke="#000" stroke-width="1.15"/>
<line x1="556.60" y1="28.50" x2="554.10" y2="28.50" stroke="#000" stroke-width="1.15"/>
<line x1="417.80" y1="38.50" x2="420.90" y2="38.50" stroke="#000" stroke-width="1.15"/>
<line x1="556.60" y1="38.50" x2="553.20" y2="38.50" stroke="#000" stroke-width="1.15"/>
<line x1="417.80" y1="47.50" x2="419.20" y2="47.50" stroke="#000" stroke-width="1.15"/>
<line x1="556.60" y1="47.50" x2="554.10" y2="47.50" stroke="#000" stroke-width="1.15"/>
<line x1="417.80" y1="56.50" x2="419.20" y2="56.50" stroke="#000" stroke-width="1.15"/>
<line x1="556.60" y1="56.50" x2="554.10" y2="56.50" stroke="#000" stroke-width="1.15"/>
<line x1="417.80" y1="65.50" x2="419.20" y2="65.50" stroke="#000" stroke-width="1.15"/>
<line x1="556.60" y1="65.50" x2="554.10" y2="65.50" stroke="#000" stroke-width="1.15"/>
<line x1="417.80" y1="74.50" x2="420.90" y2="74.50" stroke="#000" stroke-width="1.15"/>
<line x1="556.60" y1="74.50" x2="553.20" y2="74.50" stroke="#000" stroke-width="1.15"/>
<line x1="417.80" y1="83.50" x2="419.20" y2="83.50" stroke="#000" stroke-width="1.15"/>
<line x1="556.60" y1="83.50" x2="554.10" y2="83.50" stroke="#000" stroke-width="1.15"/>
<line x1="417.80" y1="92.50" x2="419.20" y2="92.50" stroke="#000" stroke-width="1.15"/>
<line x1="556.60" y1="92.50" x2="554.10" y2="92.50" stroke="#000" stroke-width="1.15"/>
<line x1="417.80" y1="101.50" x2="419.20" y2="101.50" stroke="#000" stroke-width="1.15"/>
<line x1="556.60" y1="101.50" x2="554.10" y2="101.50" stroke="#000" stroke-width="1.15"/>
<line x1="417.80" y1="110.50" x2="420.90" y2="110.50" stroke="#000" stroke-width="1.15"/>
<line x1="556.60" y1="110.50" x2="553.20" y2="110.50" stroke="#000" stroke-width="1.15"/>
<line x1="417.80" y1="119.50" x2="419.20" y2="119.50" stroke="#000" stroke-width="1.15"/>
<line x1="556.60" y1="119.50" x2="554.10" y2="119.50" stroke="#000" stroke-width="1.15"/>
<line x1="417.80" y1="129.50" x2="419.20" y2="129.50" stroke="#000" stroke-width="1.15"/>
<line x1="556.60" y1="129.50" x2="554.10" y2="129.50" stroke="#000" stroke-width="1.15"/>
<line x1="417.80" y1="138.50" x2="419.20" y2="138.50" stroke="#000" stroke-width="1.15"/>
<line x1="556.60" y1="138.50" x2="554.10" y2="138.50" stroke="#000" stroke-width="1.15"/>
<line x1="417.80" y1="147.50" x2="420.90" y2="147.50" stroke="#000" stroke-width="1.15"/>
<line x1="556.60" y1="147.50" x2="553.20" y2="147.50" stroke="#000" stroke-width="1.15"/>
<rect x="417.80" y="1.60" width="138.80" height="145.60" fill="none" stroke="#000" stroke-width="1.2"/>
<text x="417.70" y="160.90" font-size="10" text-anchor="middle" stroke-width="0.36">0</text>
<text x="445.46" y="160.90" font-size="10" text-anchor="middle" stroke-width="0.36">1000</text>
<text x="473.22" y="160.90" font-size="10" text-anchor="middle" stroke-width="0.36">2000</text>
<text x="500.98" y="160.90" font-size="10" text-anchor="middle" stroke-width="0.36">3000</text>
<text x="528.74" y="160.90" font-size="10" text-anchor="middle" stroke-width="0.36">4000</text>
<text x="556.50" y="160.90" font-size="10" text-anchor="middle" stroke-width="0.36">5000</text>
<text x="487.40" y="170.70" font-size="10" text-anchor="middle" stroke-width="0.1">Radio burst drift speed (kms<tspan font-size="6.3" dy="-3.5" stroke-width="0.08">&#8722;1</tspan><tspan dy="3.5" font-size="1">&#8203;</tspan>)</text>
<text x="414.40" y="42.00" font-size="10" text-anchor="end" stroke-width="0.36">&#8722;200</text>
<text x="414.40" y="78.40" font-size="10" text-anchor="end" stroke-width="0.36">&#8722;400</text>
<text x="414.40" y="114.80" font-size="10" text-anchor="end" stroke-width="0.36">&#8722;600</text>
<text x="414.30" y="147.50" font-size="10" text-anchor="end" stroke-width="0.36">&#8722;800</text>
<text x="414.30" y="7.60" font-size="10" text-anchor="end" stroke-width="0.36">0</text>
<text transform="translate(384.70,117.10) rotate(-90)" font-size="10" text-anchor="start" stroke-width="0.12" style="word-spacing:1.0px">Wave a<tspan font-size="6.2" dy="2.6" stroke-width="0.08">median</tspan><tspan dy="-2.6" font-size="1">&#8203;</tspan> (ms<tspan font-size="6.3" dy="-3.5" stroke-width="0.08">&#8722;2</tspan><tspan dy="3.5" font-size="1">&#8203;</tspan>)</text>
<circle cx="427.2" cy="8.3" r="2.2" fill="#ff0000"/>
<circle cx="430.6" cy="6.9" r="2.2" fill="#ff0000"/>
<circle cx="456.9" cy="4.4" r="2.2" fill="#ff0000"/>
<circle cx="434.1" cy="15.1" r="2.2" fill="#ff0000"/>
<circle cx="436.9" cy="18.3" r="2.2" fill="#ff0000"/>
<circle cx="428.5" cy="20.1" r="2.2" fill="#ff0000"/>
<circle cx="445.8" cy="21.0" r="2.2" fill="#ff0000"/>
<circle cx="445.8" cy="26.5" r="2.2" fill="#ff0000"/>
<circle cx="458.0" cy="32.5" r="2.2" fill="#ff0000"/>
<circle cx="467.2" cy="31.9" r="2.2" fill="#ff0000"/>
<circle cx="444.5" cy="36.7" r="2.2" fill="#ff0000"/>
<circle cx="452.6" cy="36.7" r="2.2" fill="#ff0000"/>
<circle cx="429.6" cy="39.2" r="2.2" fill="#ff0000"/>
<circle cx="443.3" cy="41.9" r="2.2" fill="#ff0000"/>
<circle cx="442.9" cy="47.0" r="2.2" fill="#ff0000"/>
<circle cx="435.3" cy="63.5" r="2.2" fill="#ff0000"/>
<circle cx="430.6" cy="75.8" r="2.2" fill="#ff0000"/>
<circle cx="460.2" cy="88.5" r="2.2" fill="#ff0000"/>
<circle cx="461.9" cy="89.0" r="2.2" fill="#ff0000"/>
<circle cx="460.7" cy="111.8" r="2.2" fill="#ff0000"/>
<circle cx="441.5" cy="137.3" r="2.2" fill="#ff0000"/>
<circle cx="468.9" cy="4.6" r="2.2" fill="#00ff00"/>
<circle cx="471.7" cy="8.0" r="2.2" fill="#00ff00"/>
<circle cx="436.9" cy="11.3" r="2.2" fill="#00ff00"/>
<circle cx="448.4" cy="16.3" r="2.2" fill="#00ff00"/>
<circle cx="454.1" cy="17.6" r="2.2" fill="#00ff00"/>
<circle cx="436.0" cy="21.0" r="2.2" fill="#00ff00"/>
<circle cx="427.8" cy="29.1" r="2.2" fill="#00ff00"/>
<circle cx="435.1" cy="28.9" r="2.2" fill="#00ff00"/>
<circle cx="437.0" cy="33.7" r="2.2" fill="#00ff00"/>
<circle cx="443.6" cy="33.9" r="2.2" fill="#00ff00"/>
<circle cx="455.0" cy="32.1" r="2.2" fill="#00ff00"/>
<circle cx="436.5" cy="40.6" r="2.2" fill="#00ff00"/>
<circle cx="474.4" cy="40.8" r="2.2" fill="#00ff00"/>
<circle cx="445.2" cy="48.8" r="2.2" fill="#00ff00"/>
<circle cx="449.3" cy="49.3" r="2.2" fill="#00ff00"/>
<circle cx="438.0" cy="49.8" r="2.2" fill="#00ff00"/>
<circle cx="432.0" cy="50.8" r="2.2" fill="#00ff00"/>
<circle cx="468.7" cy="48.8" r="2.2" fill="#00ff00"/>
<circle cx="443.7" cy="54.0" r="2.2" fill="#00ff00"/>
<circle cx="458.3" cy="53.7" r="2.2" fill="#00ff00"/>
<circle cx="429.8" cy="61.2" r="2.2" fill="#00ff00"/>
<circle cx="436.6" cy="61.0" r="2.2" fill="#00ff00"/>
<circle cx="437.5" cy="62.7" r="2.2" fill="#00ff00"/>
<circle cx="442.7" cy="63.5" r="2.2" fill="#00ff00"/>
<circle cx="438.7" cy="66.4" r="2.2" fill="#00ff00"/>
<circle cx="435.3" cy="67.9" r="2.2" fill="#00ff00"/>
<circle cx="452.1" cy="67.6" r="2.2" fill="#00ff00"/>
<circle cx="458.3" cy="71.2" r="2.2" fill="#00ff00"/>
<circle cx="453.1" cy="73.6" r="2.2" fill="#00ff00"/>
<circle cx="448.9" cy="75.8" r="2.2" fill="#00ff00"/>
<circle cx="454.9" cy="76.6" r="2.2" fill="#00ff00"/>
<circle cx="455.7" cy="95.4" r="2.2" fill="#00ff00"/>
<circle cx="455.7" cy="120.9" r="2.2" fill="#00ff00"/>
<circle cx="431.0" cy="125.5" r="2.2" fill="#00ff00"/>
<circle cx="446.9" cy="12.9" r="2.2" fill="#9624ee"/>
<circle cx="445.8" cy="15.6" r="2.2" fill="#9624ee"/>
<circle cx="452.6" cy="16.1" r="2.2" fill="#9624ee"/>
<circle cx="454.1" cy="34.9" r="2.2" fill="#9624ee"/>
<circle cx="460.2" cy="76.3" r="2.2" fill="#9624ee"/>
<circle cx="466.4" cy="80.6" r="2.2" fill="#9624ee"/>
<circle cx="542.2" cy="33.1" r="2.2" fill="#9624ee"/>
<circle cx="521.2" cy="46.0" r="2.2" fill="#9624ee"/>
<rect x="439.8" y="41.8" width="4.2" height="4.2" rx="1.2" fill="#f09a30"/>
<text x="533.50" y="81.50" font-size="10" text-anchor="end" >Panel c</text>
<text x="533.50" y="91.70" font-size="10" text-anchor="end" >B</text>
<circle cx="539.9" cy="89.3" r="2.2" fill="#0000ff"/>
<text x="533.50" y="101.75" font-size="10" text-anchor="end" >C</text>
<circle cx="539.9" cy="99.3" r="2.2" fill="#ff0000"/>
<text x="533.50" y="111.80" font-size="10" text-anchor="end" >M</text>
<circle cx="539.9" cy="109.4" r="2.2" fill="#00ff00"/>
<text x="533.50" y="121.85" font-size="10" text-anchor="end" >X</text>
<circle cx="539.9" cy="119.5" r="2.2" fill="#9624ee"/>
<text x="533.50" y="131.90" font-size="10" text-anchor="end" >NF</text>
<circle cx="539.9" cy="129.5" r="2.2" fill="#000"/>
<rect x="29.60" y="324.40" width="16.90" height="3.50" fill="#ff0000"/>
<path d="M29.60 327.90V324.40H46.50V327.90" fill="none" stroke="#000" stroke-width="1.1"/>
<rect x="46.50" y="196.30" width="32.88" height="131.60" fill="#0000ff"/>
<path d="M46.50 327.90V196.30H79.38V327.90" fill="none" stroke="#000" stroke-width="1.1"/>
<rect x="46.50" y="239.84" width="32.88" height="88.06" fill="#ff0000"/>
<path d="M46.50 327.90V239.84H79.38V327.90" fill="none" stroke="#000" stroke-width="1.1"/>
<rect x="79.38" y="319.30" width="32.88" height="8.60" fill="#0000ff"/>
<path d="M79.38 327.90V319.30H112.25V327.90" fill="none" stroke="#000" stroke-width="1.1"/>
<rect x="79.38" y="324.40" width="32.88" height="3.50" fill="#ff0000"/>
<path d="M79.38 327.90V324.40H112.25V327.90" fill="none" stroke="#000" stroke-width="1.1"/>
<rect x="112.25" y="304.60" width="32.88" height="23.30" fill="#0000ff"/>
<path d="M112.25 327.90V304.60H145.12V327.90" fill="none" stroke="#000" stroke-width="1.1"/>
<rect x="112.25" y="321.40" width="32.88" height="6.50" fill="#ff0000"/>
<path d="M112.25 327.90V321.40H145.12V327.90" fill="none" stroke="#000" stroke-width="1.1"/>
<rect x="145.12" y="316.30" width="32.88" height="11.60" fill="#ff0000"/>
<path d="M145.12 327.90V316.30H178.00V327.90" fill="none" stroke="#000" stroke-width="1.1"/>
<rect x="178.00" y="307.30" width="32.88" height="20.60" fill="#ff0000"/>
<path d="M178.00 327.90V307.30H210.88V327.90" fill="none" stroke="#000" stroke-width="1.1"/>
<rect x="210.88" y="321.30" width="32.88" height="6.60" fill="#ff0000"/>
<path d="M210.88 327.90V321.30H243.75V327.90" fill="none" stroke="#000" stroke-width="1.1"/>
<rect x="243.75" y="313.50" width="32.88" height="14.40" fill="#0000ff"/>
<path d="M243.75 327.90V313.50H276.62V327.90" fill="none" stroke="#000" stroke-width="1.1"/>
<rect x="243.75" y="319.60" width="32.88" height="8.30" fill="#ff0000"/>
<path d="M243.75 327.90V319.60H276.62V327.90" fill="none" stroke="#000" stroke-width="1.1"/>
<rect x="276.62" y="313.50" width="32.88" height="14.40" fill="#0000ff"/>
<path d="M276.62 327.90V313.50H309.50V327.90" fill="none" stroke="#000" stroke-width="1.1"/>
<rect x="276.62" y="321.30" width="32.88" height="6.60" fill="#ff0000"/>
<path d="M276.62 327.90V321.30H309.50V327.90" fill="none" stroke="#000" stroke-width="1.1"/>
<rect x="309.50" y="319.60" width="32.88" height="8.30" fill="#ff0000"/>
<path d="M309.50 327.90V319.60H342.38V327.90" fill="none" stroke="#000" stroke-width="1.1"/>
<rect x="342.38" y="316.30" width="32.88" height="11.60" fill="#ff0000"/>
<path d="M342.38 327.90V316.30H375.25V327.90" fill="none" stroke="#000" stroke-width="1.1"/>
<rect x="375.25" y="319.60" width="32.88" height="8.30" fill="#ff0000"/>
<path d="M375.25 327.90V319.60H408.12V327.90" fill="none" stroke="#000" stroke-width="1.1"/>
<rect x="408.12" y="313.50" width="32.88" height="14.40" fill="#0000ff"/>
<path d="M408.12 327.90V313.50H441.00V327.90" fill="none" stroke="#000" stroke-width="1.1"/>
<rect x="408.12" y="324.60" width="32.88" height="3.30" fill="#ff0000"/>
<path d="M408.12 327.90V324.60H441.00V327.90" fill="none" stroke="#000" stroke-width="1.1"/>
<rect x="441.00" y="319.60" width="32.88" height="8.30" fill="#ff0000"/>
<path d="M441.00 327.90V319.60H473.88V327.90" fill="none" stroke="#000" stroke-width="1.1"/>
<rect x="473.88" y="321.50" width="32.88" height="6.40" fill="#0000ff"/>
<path d="M473.88 327.90V321.50H506.75V327.90" fill="none" stroke="#000" stroke-width="1.1"/>
<rect x="506.75" y="321.50" width="32.88" height="6.40" fill="#0000ff"/>
<path d="M506.75 327.90V321.50H539.62V327.90" fill="none" stroke="#000" stroke-width="1.1"/>
<line x1="473.88" y1="327.45" x2="490.90" y2="327.45" stroke="#000" stroke-width="1.0"/>
<line x1="29.60" y1="181.60" x2="556.60" y2="181.60" stroke="#000" stroke-width="1.2"/>
<line x1="29.60" y1="181.60" x2="29.60" y2="324.40" stroke="#000" stroke-width="1.2"/>
<line x1="556.60" y1="181.60" x2="556.60" y2="327.80" stroke="#000" stroke-width="1.2"/>
<line x1="539.62" y1="327.20" x2="556.60" y2="327.20" stroke="#000" stroke-width="1.2"/>
<line x1="46.50" y1="181.60" x2="46.50" y2="183.30" stroke="#000" stroke-width="1.15"/>
<line x1="79.50" y1="181.60" x2="79.50" y2="183.30" stroke="#000" stroke-width="1.15"/>
<line x1="112.50" y1="181.60" x2="112.50" y2="183.30" stroke="#000" stroke-width="1.15"/>
<line x1="145.50" y1="181.60" x2="145.50" y2="184.60" stroke="#000" stroke-width="1.15"/>
<line x1="178.50" y1="181.60" x2="178.50" y2="183.30" stroke="#000" stroke-width="1.15"/>
<line x1="210.50" y1="181.60" x2="210.50" y2="183.30" stroke="#000" stroke-width="1.15"/>
<line x1="243.50" y1="181.60" x2="243.50" y2="183.30" stroke="#000" stroke-width="1.15"/>
<line x1="276.50" y1="181.60" x2="276.50" y2="184.60" stroke="#000" stroke-width="1.15"/>
<line x1="309.50" y1="181.60" x2="309.50" y2="183.30" stroke="#000" stroke-width="1.15"/>
<line x1="342.50" y1="181.60" x2="342.50" y2="183.30" stroke="#000" stroke-width="1.15"/>
<line x1="375.50" y1="181.60" x2="375.50" y2="183.30" stroke="#000" stroke-width="1.15"/>
<line x1="408.50" y1="181.60" x2="408.50" y2="184.60" stroke="#000" stroke-width="1.15"/>
<line x1="441.50" y1="181.60" x2="441.50" y2="183.30" stroke="#000" stroke-width="1.15"/>
<line x1="473.50" y1="181.60" x2="473.50" y2="183.30" stroke="#000" stroke-width="1.15"/>
<line x1="506.50" y1="181.60" x2="506.50" y2="183.30" stroke="#000" stroke-width="1.15"/>
<line x1="539.50" y1="181.60" x2="539.50" y2="184.60" stroke="#000" stroke-width="1.15"/>
<line x1="556.60" y1="327.50" x2="545.30" y2="327.50" stroke="#000" stroke-width="1.15"/>
<line x1="556.60" y1="324.50" x2="550.20" y2="324.50" stroke="#000" stroke-width="1.15"/>
<line x1="29.60" y1="321.50" x2="36.00" y2="321.50" stroke="#000" stroke-width="1.15"/>
<line x1="556.60" y1="321.50" x2="550.20" y2="321.50" stroke="#000" stroke-width="1.15"/>
<line x1="29.60" y1="318.50" x2="36.00" y2="318.50" stroke="#000" stroke-width="1.15"/>
<line x1="556.60" y1="318.50" x2="550.20" y2="318.50" stroke="#000" stroke-width="1.15"/>
<line x1="29.60" y1="315.50" x2="36.00" y2="315.50" stroke="#000" stroke-width="1.15"/>
<line x1="556.60" y1="315.50" x2="550.20" y2="315.50" stroke="#000" stroke-width="1.15"/>
<line x1="29.60" y1="312.50" x2="36.00" y2="312.50" stroke="#000" stroke-width="1.15"/>
<line x1="556.60" y1="312.50" x2="550.20" y2="312.50" stroke="#000" stroke-width="1.15"/>
<line x1="29.60" y1="309.50" x2="36.00" y2="309.50" stroke="#000" stroke-width="1.15"/>
<line x1="556.60" y1="309.50" x2="550.20" y2="309.50" stroke="#000" stroke-width="1.15"/>
<line x1="29.60" y1="306.50" x2="36.00" y2="306.50" stroke="#000" stroke-width="1.15"/>
<line x1="556.60" y1="306.50" x2="550.20" y2="306.50" stroke="#000" stroke-width="1.15"/>
<line x1="29.60" y1="303.50" x2="36.00" y2="303.50" stroke="#000" stroke-width="1.15"/>
<line x1="556.60" y1="303.50" x2="550.20" y2="303.50" stroke="#000" stroke-width="1.15"/>
<line x1="29.60" y1="300.50" x2="36.00" y2="300.50" stroke="#000" stroke-width="1.15"/>
<line x1="556.60" y1="300.50" x2="550.20" y2="300.50" stroke="#000" stroke-width="1.15"/>
<line x1="29.60" y1="298.50" x2="40.90" y2="298.50" stroke="#000" stroke-width="1.15"/>
<line x1="556.60" y1="298.50" x2="545.30" y2="298.50" stroke="#000" stroke-width="1.15"/>
<line x1="29.60" y1="295.50" x2="36.00" y2="295.50" stroke="#000" stroke-width="1.15"/>
<line x1="556.60" y1="295.50" x2="550.20" y2="295.50" stroke="#000" stroke-width="1.15"/>
<line x1="29.60" y1="292.50" x2="36.00" y2="292.50" stroke="#000" stroke-width="1.15"/>
<line x1="556.60" y1="292.50" x2="550.20" y2="292.50" stroke="#000" stroke-width="1.15"/>
<line x1="29.60" y1="289.50" x2="36.00" y2="289.50" stroke="#000" stroke-width="1.15"/>
<line x1="556.60" y1="289.50" x2="550.20" y2="289.50" stroke="#000" stroke-width="1.15"/>
<line x1="29.60" y1="286.50" x2="36.00" y2="286.50" stroke="#000" stroke-width="1.15"/>
<line x1="556.60" y1="286.50" x2="550.20" y2="286.50" stroke="#000" stroke-width="1.15"/>
<line x1="29.60" y1="283.50" x2="36.00" y2="283.50" stroke="#000" stroke-width="1.15"/>
<line x1="556.60" y1="283.50" x2="550.20" y2="283.50" stroke="#000" stroke-width="1.15"/>
<line x1="29.60" y1="280.50" x2="36.00" y2="280.50" stroke="#000" stroke-width="1.15"/>
<line x1="556.60" y1="280.50" x2="550.20" y2="280.50" stroke="#000" stroke-width="1.15"/>
<line x1="29.60" y1="277.50" x2="36.00" y2="277.50" stroke="#000" stroke-width="1.15"/>
<line x1="556.60" y1="277.50" x2="550.20" y2="277.50" stroke="#000" stroke-width="1.15"/>
<line x1="29.60" y1="274.50" x2="36.00" y2="274.50" stroke="#000" stroke-width="1.15"/>
<line x1="556.60" y1="274.50" x2="550.20" y2="274.50" stroke="#000" stroke-width="1.15"/>
<line x1="29.60" y1="271.50" x2="36.00" y2="271.50" stroke="#000" stroke-width="1.15"/>
<line x1="556.60" y1="271.50" x2="550.20" y2="271.50" stroke="#000" stroke-width="1.15"/>
<line x1="29.60" y1="268.50" x2="40.90" y2="268.50" stroke="#000" stroke-width="1.15"/>
<line x1="556.60" y1="268.50" x2="545.30" y2="268.50" stroke="#000" stroke-width="1.15"/>
<line x1="29.60" y1="266.50" x2="36.00" y2="266.50" stroke="#000" stroke-width="1.15"/>
<line x1="556.60" y1="266.50" x2="550.20" y2="266.50" stroke="#000" stroke-width="1.15"/>
<line x1="29.60" y1="263.50" x2="36.00" y2="263.50" stroke="#000" stroke-width="1.15"/>
<line x1="556.60" y1="263.50" x2="550.20" y2="263.50" stroke="#000" stroke-width="1.15"/>
<line x1="29.60" y1="260.50" x2="36.00" y2="260.50" stroke="#000" stroke-width="1.15"/>
<line x1="556.60" y1="260.50" x2="550.20" y2="260.50" stroke="#000" stroke-width="1.15"/>
<line x1="29.60" y1="257.50" x2="36.00" y2="257.50" stroke="#000" stroke-width="1.15"/>
<line x1="556.60" y1="257.50" x2="550.20" y2="257.50" stroke="#000" stroke-width="1.15"/>
<line x1="29.60" y1="254.50" x2="36.00" y2="254.50" stroke="#000" stroke-width="1.15"/>
<line x1="556.60" y1="254.50" x2="550.20" y2="254.50" stroke="#000" stroke-width="1.15"/>
<line x1="29.60" y1="251.50" x2="36.00" y2="251.50" stroke="#000" stroke-width="1.15"/>
<line x1="556.60" y1="251.50" x2="550.20" y2="251.50" stroke="#000" stroke-width="1.15"/>
<line x1="29.60" y1="248.50" x2="36.00" y2="248.50" stroke="#000" stroke-width="1.15"/>
<line x1="556.60" y1="248.50" x2="550.20" y2="248.50" stroke="#000" stroke-width="1.15"/>
<line x1="29.60" y1="245.50" x2="36.00" y2="245.50" stroke="#000" stroke-width="1.15"/>
<line x1="556.60" y1="245.50" x2="550.20" y2="245.50" stroke="#000" stroke-width="1.15"/>
<line x1="29.60" y1="242.50" x2="36.00" y2="242.50" stroke="#000" stroke-width="1.15"/>
<line x1="556.60" y1="242.50" x2="550.20" y2="242.50" stroke="#000" stroke-width="1.15"/>
<line x1="29.60" y1="239.50" x2="40.90" y2="239.50" stroke="#000" stroke-width="1.15"/>
<line x1="556.60" y1="239.50" x2="545.30" y2="239.50" stroke="#000" stroke-width="1.15"/>
<line x1="29.60" y1="236.50" x2="36.00" y2="236.50" stroke="#000" stroke-width="1.15"/>
<line x1="556.60" y1="236.50" x2="550.20" y2="236.50" stroke="#000" stroke-width="1.15"/>
<line x1="29.60" y1="234.50" x2="36.00" y2="234.50" stroke="#000" stroke-width="1.15"/>
<line x1="556.60" y1="234.50" x2="550.20" y2="234.50" stroke="#000" stroke-width="1.15"/>
<line x1="29.60" y1="231.50" x2="36.00" y2="231.50" stroke="#000" stroke-width="1.15"/>
<line x1="556.60" y1="231.50" x2="550.20" y2="231.50" stroke="#000" stroke-width="1.15"/>
<line x1="29.60" y1="228.50" x2="36.00" y2="228.50" stroke="#000" stroke-width="1.15"/>
<line x1="556.60" y1="228.50" x2="550.20" y2="228.50" stroke="#000" stroke-width="1.15"/>
<line x1="29.60" y1="225.50" x2="36.00" y2="225.50" stroke="#000" stroke-width="1.15"/>
<line x1="556.60" y1="225.50" x2="550.20" y2="225.50" stroke="#000" stroke-width="1.15"/>
<line x1="29.60" y1="222.50" x2="36.00" y2="222.50" stroke="#000" stroke-width="1.15"/>
<line x1="556.60" y1="222.50" x2="550.20" y2="222.50" stroke="#000" stroke-width="1.15"/>
<line x1="29.60" y1="219.50" x2="36.00" y2="219.50" stroke="#000" stroke-width="1.15"/>
<line x1="556.60" y1="219.50" x2="550.20" y2="219.50" stroke="#000" stroke-width="1.15"/>
<line x1="29.60" y1="216.50" x2="36.00" y2="216.50" stroke="#000" stroke-width="1.15"/>
<line x1="556.60" y1="216.50" x2="550.20" y2="216.50" stroke="#000" stroke-width="1.15"/>
<line x1="29.60" y1="213.50" x2="36.00" y2="213.50" stroke="#000" stroke-width="1.15"/>
<line x1="556.60" y1="213.50" x2="550.20" y2="213.50" stroke="#000" stroke-width="1.15"/>
<line x1="29.60" y1="210.50" x2="40.90" y2="210.50" stroke="#000" stroke-width="1.15"/>
<line x1="556.60" y1="210.50" x2="550.20" y2="210.50" stroke="#000" stroke-width="1.15"/>
<line x1="29.60" y1="207.50" x2="36.00" y2="207.50" stroke="#000" stroke-width="1.15"/>
<line x1="556.60" y1="207.50" x2="550.20" y2="207.50" stroke="#000" stroke-width="1.15"/>
<line x1="29.60" y1="204.50" x2="36.00" y2="204.50" stroke="#000" stroke-width="1.15"/>
<line x1="556.60" y1="204.50" x2="550.20" y2="204.50" stroke="#000" stroke-width="1.15"/>
<line x1="29.60" y1="201.50" x2="36.00" y2="201.50" stroke="#000" stroke-width="1.15"/>
<line x1="556.60" y1="201.50" x2="550.20" y2="201.50" stroke="#000" stroke-width="1.15"/>
<line x1="29.60" y1="199.50" x2="36.00" y2="199.50" stroke="#000" stroke-width="1.15"/>
<line x1="556.60" y1="199.50" x2="550.20" y2="199.50" stroke="#000" stroke-width="1.15"/>
<line x1="29.60" y1="196.50" x2="36.00" y2="196.50" stroke="#000" stroke-width="1.15"/>
<line x1="556.60" y1="196.50" x2="550.20" y2="196.50" stroke="#000" stroke-width="1.15"/>
<line x1="29.60" y1="193.50" x2="36.00" y2="193.50" stroke="#000" stroke-width="1.15"/>
<line x1="556.60" y1="193.50" x2="550.20" y2="193.50" stroke="#000" stroke-width="1.15"/>
<line x1="29.60" y1="190.50" x2="36.00" y2="190.50" stroke="#000" stroke-width="1.15"/>
<line x1="556.60" y1="190.50" x2="550.20" y2="190.50" stroke="#000" stroke-width="1.15"/>
<line x1="29.60" y1="187.50" x2="36.00" y2="187.50" stroke="#000" stroke-width="1.15"/>
<line x1="556.60" y1="187.50" x2="550.20" y2="187.50" stroke="#000" stroke-width="1.15"/>
<line x1="29.60" y1="184.50" x2="36.00" y2="184.50" stroke="#000" stroke-width="1.15"/>
<line x1="556.60" y1="184.50" x2="550.20" y2="184.50" stroke="#000" stroke-width="1.15"/>
<line x1="29.60" y1="181.50" x2="40.90" y2="181.50" stroke="#000" stroke-width="1.15"/>
<line x1="556.60" y1="181.50" x2="545.30" y2="181.50" stroke="#000" stroke-width="1.15"/>
<text x="26.90" y="301.98" font-size="10" text-anchor="end" stroke-width="0.06">10</text>
<text x="26.90" y="272.86" font-size="10" text-anchor="end" stroke-width="0.06">20</text>
<text x="26.90" y="243.74" font-size="10" text-anchor="end" stroke-width="0.06">30</text>
<text x="26.90" y="214.62" font-size="10" text-anchor="end" stroke-width="0.06">40</text>
<text x="26.90" y="327.90" font-size="10" text-anchor="end" stroke-width="0.06">0</text>
<text x="26.90" y="187.60" font-size="10" text-anchor="end" stroke-width="0.06">50</text>
<text x="144.93" y="340.90" font-size="10" text-anchor="middle" stroke-width="0.06">200</text>
<text x="276.43" y="340.90" font-size="10" text-anchor="middle" stroke-width="0.06">400</text>
<text x="407.93" y="340.90" font-size="10" text-anchor="middle" stroke-width="0.06">600</text>
<text x="539.42" y="340.90" font-size="10" text-anchor="middle" stroke-width="0.06">800</text>
<text transform="translate(7.80,254.00) rotate(-90)" font-size="10" text-anchor="middle" stroke-width="0.05" style="word-spacing:0.3px">Number of events</text>
<text x="293.40" y="351.50" font-size="10" text-anchor="middle" stroke-width="0.06">Wave v<tspan font-size="6.2" dy="2.6" stroke-width="0.08">median</tspan><tspan dy="-2.6" font-size="1">&#8203;</tspan> (kms<tspan font-size="6.3" dy="-3.5" stroke-width="0.08">&#8722;1</tspan><tspan dy="3.5" font-size="1">&#8203;</tspan>)</text>
<text x="533.50" y="202.20" font-size="10" text-anchor="end" stroke-width="0.08">Panel d</text>
<text x="533.50" y="212.60" font-size="10" text-anchor="end" stroke-width="0.08">Events with Type II</text>
<text x="533.50" y="222.60" font-size="10" text-anchor="end" stroke-width="0.08">Events without Type II</text>
<rect x="536.0" y="206.0" width="8.0" height="7.7" fill="#ff0000"/>
<rect x="536.0" y="216.0" width="8.0" height="7.7" fill="#0000ff"/>
</svg>
</body></html>
